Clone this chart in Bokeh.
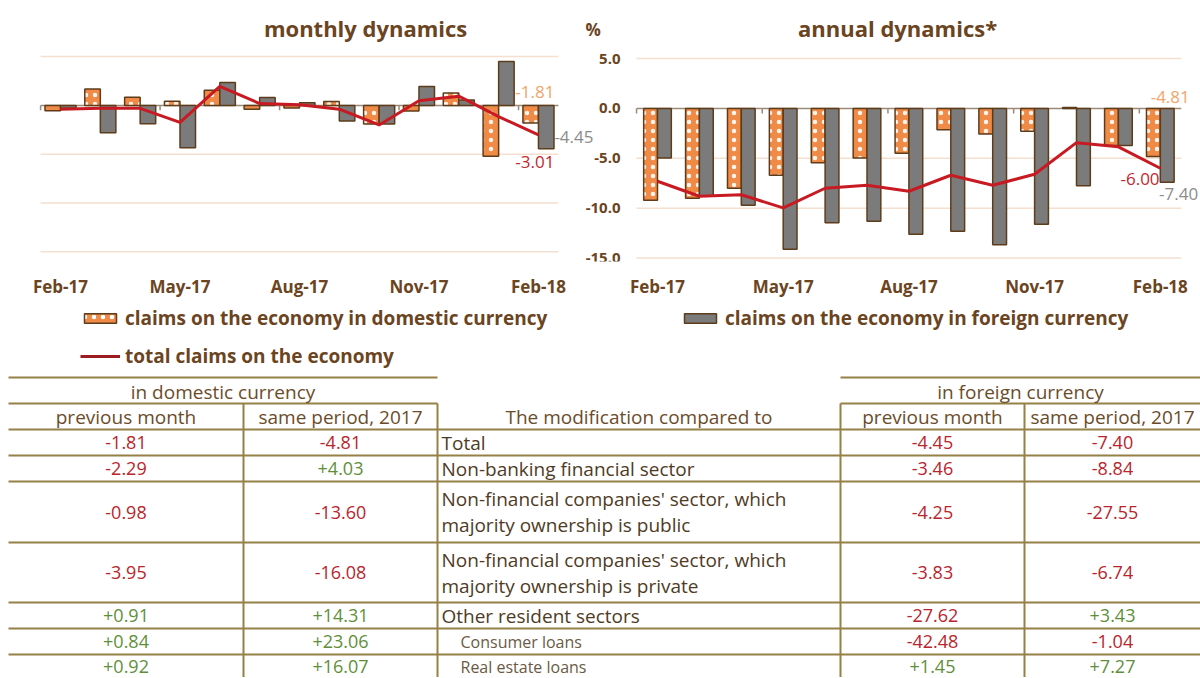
from bokeh.plotting import figure
from bokeh.models import (Range1d, Label, Legend, LegendItem, ColumnDataSource, FixedTicker)
from bokeh.layouts import column, row
from bokeh.embed import file_html
from bokeh.resources import INLINE
from bokeh.core.properties import value

NAN = float("nan")

# ---------------- data ----------------
months = ["Feb-17", "Mar-17", "Apr-17", "May-17", "Jun-17", "Jul-17", "Aug-17",
          "Sep-17", "Oct-17", "Nov-17", "Dec-17", "Jan-18", "Feb-18"]
tick_months = ["Feb-17", "May-17", "Aug-17", "Nov-17", "Feb-18"]

# monthly dynamics (%)
dom_m = [-0.55, 1.68, 0.84, 0.42, 1.55, -0.39, -0.26, 0.39, -1.90, -0.58, 1.26, -5.20, -1.81]
for_m = [-0.30, -2.80, -1.87, -4.35, 2.35, 0.81, 0.26, -1.61, -1.90, 1.94, 0.55, 4.50, -4.45]
tot_m = [-0.39, -0.30, -0.30, -1.74, 1.94, 0.19, 0.06, -0.39, -2.00, 0.48, 0.94, -1.15, -3.01]

# annual dynamics (%)
dom_a = [-9.20, -9.00, -8.00, -6.70, -5.45, -4.97, -4.50, -2.15, -2.56, -2.30, 0.10, -3.72, -4.81]
for_a = [-4.97, -8.75, -9.70, -14.10, -11.45, -11.30, -12.60, -12.30, -13.65, -11.60, -7.75, -3.72, -7.40]
tot_a = [-7.30, -8.80, -8.65, -9.97, -8.00, -7.70, -8.30, -6.70, -7.70, -6.60, -3.43, -3.85, -6.00]

y_ticks = [5, 0, -5, -10, -15]

legend_labels = ["claims on the economy in domestic currency",
                 "claims on the economy in foreign currency",
                 "total claims on the economy"]

# table
table_rows = ["Total",
              "Non-banking financial sector",
              "Non-financial companies' sector, which\nmajority ownership is public",
              "Non-financial companies' sector, which\nmajority ownership is private",
              "Other resident sectors",
              "Consumer loans",
              "Real estate loans"]
sub_row = [False, False, False, False, False, True, True]
dom_prev = [-1.81, -2.29, -0.98, -3.95, 0.91, 0.84, 0.92]
dom_same = [-4.81, 4.03, -13.60, -16.08, 14.31, 23.06, 16.07]
for_prev = [-4.45, -3.46, -4.25, -3.83, -27.62, -42.48, 1.45]
for_same = [-7.40, -8.84, -27.55, -6.74, 3.43, -1.04, 7.27]
grp_headers = ["in domestic currency", "in foreign currency"]
col_headers = ["previous month", "same period, 2017"]
mid_header = "The modification compared to"

# ---------------- styles / layout ----------------
FONT = "Open Sans"
ORANGE = "#ef8a47"
GREY = "#7b7b7b"
RED = "#c81a22"
OUTLINE = "#5e3c1a"
BROWN = "#6b4421"
GRID = "#f5dfcf"
ZERO = "#9b8a78"

TOP_H, AX_H = 300, 30           # chart row height, x-axis band
W1, W2 = 621, 579               # widths of the two chart canvases
# page geometry (pixels): first category centre, category width, y of 5 and -15
M_X0, M_CW, M_Y5, M_YM15 = 60, 39.83, 58, 260
A_X0, A_CW, A_Y5, A_YM15 = 657, 41.9, 60, 266.5
FRAME_H = TOP_H - AX_H


def yrange(y5, ym15):
    s = (ym15 - y5) / 20.0
    return Range1d(-15 - (FRAME_H - ym15) / s, 5 + y5 / s)


def xrange(x0, cw, left, right):
    return Range1d((left - x0) / cw, (right - x0) / cw)


def chart(width, xr, yr):
    p = figure(x_range=xr, y_range=yr, width=width, height=TOP_H, min_border_left=0,
               min_border_right=0, min_border_top=0, min_border_bottom=AX_H,
               output_backend="svg", toolbar_location=None)
    p.outline_line_color = None
    p.grid.visible = False
    p.yaxis.visible = False
    ax = p.xaxis[0]
    ax.ticker = FixedTicker(ticks=[months.index(m) for m in tick_months])
    ax.major_label_overrides = {months.index(m): m for m in tick_months}
    ax.axis_line_color = None
    ax.major_tick_line_color = None
    ax.minor_tick_line_color = None
    ax.major_label_text_font = FONT
    ax.major_label_text_font_style = "bold"
    ax.major_label_text_font_size = "17px"
    ax.major_label_text_color = BROWN
    ax.major_label_standoff = 7
    return p


def draw(p, dom, fo, tot, w):
    n = len(months)
    idx = list(range(n))
    gl = [t for t in y_ticks if t != 0]
    p.segment(x0=[-0.5] * len(gl), x1=[n - 0.5] * len(gl), y0=gl, y1=gl,
              line_color=GRID, line_width=1.5)
    p.segment(x0=[-0.5], x1=[n - 0.5], y0=[0], y1=[0], line_color=ZERO, line_width=1.5)
    tb = [months.index(m) - 0.5 for m in tick_months]
    p.segment(x0=tb, x1=tb, y0=[0] * len(tb), y1=[-0.5] * len(tb), line_color=ZERO, line_width=1.5)
    src = ColumnDataSource(dict(i=idx, xo=[i - w / 2 for i in idx], xf=[i + w / 2 for i in idx],
                                dom=dom, fo=fo, tot=tot))
    p.vbar(x="xo", top="dom", width=w, source=src, fill_color=ORANGE, line_color=OUTLINE,
           line_width=1.5, hatch_pattern="dot", hatch_color="white", hatch_scale=9,
           hatch_weight=0.8, hatch_alpha=0.9)
    p.vbar(x="xf", top="fo", width=w, source=src, fill_color=GREY, line_color=OUTLINE,
           line_width=1.5)
    p.line(x="i", y="tot", source=src, line_color=RED, line_width=3)


def lab(p, text, x, y, color, size="17px", style="normal", align="left", xr="default", yr="default"):
    p.add_layout(Label(x=x, y=y, text=text, text_color=color, text_font=FONT,
                       text_font_size=size, text_font_style=style, text_align=align,
                       text_baseline="middle", x_range_name=xr, y_range_name=yr))


# ---------------- charts ----------------
p1 = chart(W1, xrange(M_X0, M_CW, 0, W1), yrange(M_Y5, M_YM15))
p2 = chart(W2, xrange(A_X0, A_CW, W1, W1 + W2), yrange(A_Y5, A_YM15))
# the annual scale, as seen from the left canvas (for its y tick labels and unit)
p1.extra_x_ranges = {"ann": xrange(A_X0, A_CW, 0, W1)}
p1.extra_y_ranges = {"ann": p2.y_range}

# monthly
draw(p1, dom_m, for_m, tot_m, 0.39)
lab(p1, "monthly dynamics", 7.66, 7.97, BROWN, "22px", "bold", "center")
lab(p1, f"{dom_m[-1]:.2f}", 11.42, 1.34, "#f2a46a")
lab(p1, f"{tot_m[-1]:.2f}", 11.42, -5.79, "#c0282d")
lab(p1, f"{for_m[-1]:.2f}", 12.40, -3.22, "#8c8c8c")

# annual
draw(p2, dom_a, for_a, tot_a, 0.33)
p1.text(x=[-0.5 - 16 / A_CW] * len(y_ticks), y=y_ticks, text=[f"{t:.1f}" for t in y_ticks],
        text_color=BROWN, text_font=value(FONT), text_font_size="15px", text_font_style="bold",
        text_align="right", text_baseline="middle", x_range_name="ann", y_range_name="ann")
lab(p1, "%", -1.72, 7.9, BROWN, "17px", "bold", xr="ann", yr="ann")
lab(p2, "annual dynamics*", 5.73, 8.1, BROWN, "22px", "bold", "center")
lab(p2, f"{dom_a[-1]:.2f}", 11.77, 1.13, "#f2a46a")
lab(p2, f"{tot_a[-1]:.2f}", 11.05, -7.11, "#c0282d")
lab(p2, f"{for_a[-1]:.2f}", 11.97, -8.55, "#8c8c8c")

# ---------------- legend strip ----------------
LEG_H = 70
pl = figure(width=W1 + W2, height=LEG_H, x_range=Range1d(0, 1), y_range=Range1d(0, 1),
            min_border=0, output_backend="svg", toolbar_location=None)
pl.axis.visible = False
pl.grid.visible = False
pl.outline_line_color = None
# legend-only renderers (no visible data)
r_dom = pl.vbar(x=[NAN], top=[NAN], width=0.1, fill_color=ORANGE, line_color=OUTLINE, line_width=1.5,
                hatch_pattern="dot", hatch_color="white", hatch_scale=9, hatch_weight=0.8)
r_for = pl.vbar(x=[NAN], top=[NAN], width=0.1, fill_color=GREY, line_color=OUTLINE, line_width=1.5)
r_tot = pl.line(x=[NAN], y=[NAN], line_color="#9b1b1f", line_width=3)


def mk_legend(label, rend, loc):
    lg = Legend(items=[LegendItem(label=label, renderers=[rend])], location=loc,
                glyph_width=40, glyph_height=12, label_height=12, padding=0, margin=0,
                border_line_color=None, background_fill_alpha=0,
                label_text_font=FONT, label_text_font_size="19px",
                label_text_font_style="bold", label_text_color=BROWN, label_standoff=5)
    pl.add_layout(lg)


mk_legend(legend_labels[0], r_dom, (80, 39))
mk_legend(legend_labels[1], r_for, (680, 39))
mk_legend(legend_labels[2], r_tot, (80, 1))

# ---------------- table ----------------
T_TOP, T_H = TOP_H + LEG_H, 307
pt = figure(width=W1 + W2, height=T_H, x_range=Range1d(0, W1 + W2),
            y_range=Range1d(T_TOP + T_H, T_TOP),
            min_border=0, output_backend="svg", toolbar_location=None)
pt.axis.visible = False
pt.grid.visible = False
pt.outline_line_color = None

LINE = "#958046"
col_edges = [8, 243, 437, 840, 1024, 1200]
row_edges = [429, 455, 481, 542, 602, 628, 654, 690]
head_y = [377, 403]

hx0, hx1, hy = [], [], []
for y in head_y:
    hx0 += [col_edges[0], col_edges[3]]
    hx1 += [col_edges[2], col_edges[5]]
    hy += [y, y]
for y in row_edges[:-1]:
    hx0.append(col_edges[0]); hx1.append(col_edges[5]); hy.append(y)
pt.segment(x0=hx0, x1=hx1, y0=hy, y1=hy, line_color=LINE, line_width=2)
vx = [col_edges[1], col_edges[2], col_edges[3], col_edges[4]]
pt.segment(x0=vx, x1=vx, y0=[head_y[1]] * 4, y1=[row_edges[-1]] * 4, line_color=LINE, line_width=2)

HEAD = "#6b4c2a"
centers = [(col_edges[i] + col_edges[i + 1]) / 2 for i in range(5)]
pt.text(x=[(col_edges[0] + col_edges[2]) / 2, (col_edges[3] + col_edges[5]) / 2],
        y=[(head_y[0] + head_y[1]) / 2 + 1] * 2, text=grp_headers, text_color=HEAD,
        text_font=value(FONT), text_font_size="19px", text_align="center", text_baseline="middle")
pt.text(x=[centers[0], centers[1], centers[3], centers[4]], y=[(head_y[1] + row_edges[0]) / 2] * 4,
        text=col_headers * 2, text_color=HEAD, text_font=value(FONT), text_font_size="19px",
        text_align="center", text_baseline="middle")
pt.text(x=[centers[2]], y=[(head_y[1] + row_edges[0]) / 2], text=[mid_header], text_color=HEAD,
        text_font=value(FONT), text_font_size="19px", text_align="center", text_baseline="middle")

row_mid = [(row_edges[i] + row_edges[i + 1]) / 2 for i in range(len(table_rows))]
row_mid[-1] = 666
main_idx = [i for i in range(len(table_rows)) if not sub_row[i]]
sub_idx = [i for i in range(len(table_rows)) if sub_row[i]]
pt.text(x=[col_edges[2] + 4] * len(main_idx), y=[row_mid[i] for i in main_idx],
        text=[table_rows[i] for i in main_idx], text_color="#4f3b24", text_font=value(FONT),
        text_font_size="19px", text_align="left", text_baseline="middle", text_line_height=1.0)
pt.text(x=[col_edges[2] + 23] * len(sub_idx), y=[row_mid[i] for i in sub_idx],
        text=[table_rows[i] for i in sub_idx], text_color="#6b5a45", text_font=value(FONT),
        text_font_size="16px", text_align="left", text_baseline="middle")

for ci, vals in zip([0, 1, 3, 4], [dom_prev, dom_same, for_prev, for_same]):
    src = ColumnDataSource(dict(
        x=[centers[ci]] * len(vals), y=row_mid,
        t=[f"{v:+.2f}" if v > 0 else f"{v:.2f}" for v in vals],
        c=["#5f8f3a" if v > 0 else "#b8252c" for v in vals]))
    pt.text(x="x", y="y", text="t", text_color="c", source=src, text_font=value(FONT),
            text_font_size="18px", text_align="center", text_baseline="middle")

layout = column(row(p1, p2), pl, pt)
open("out.html", "w").write(file_html(layout, INLINE))
